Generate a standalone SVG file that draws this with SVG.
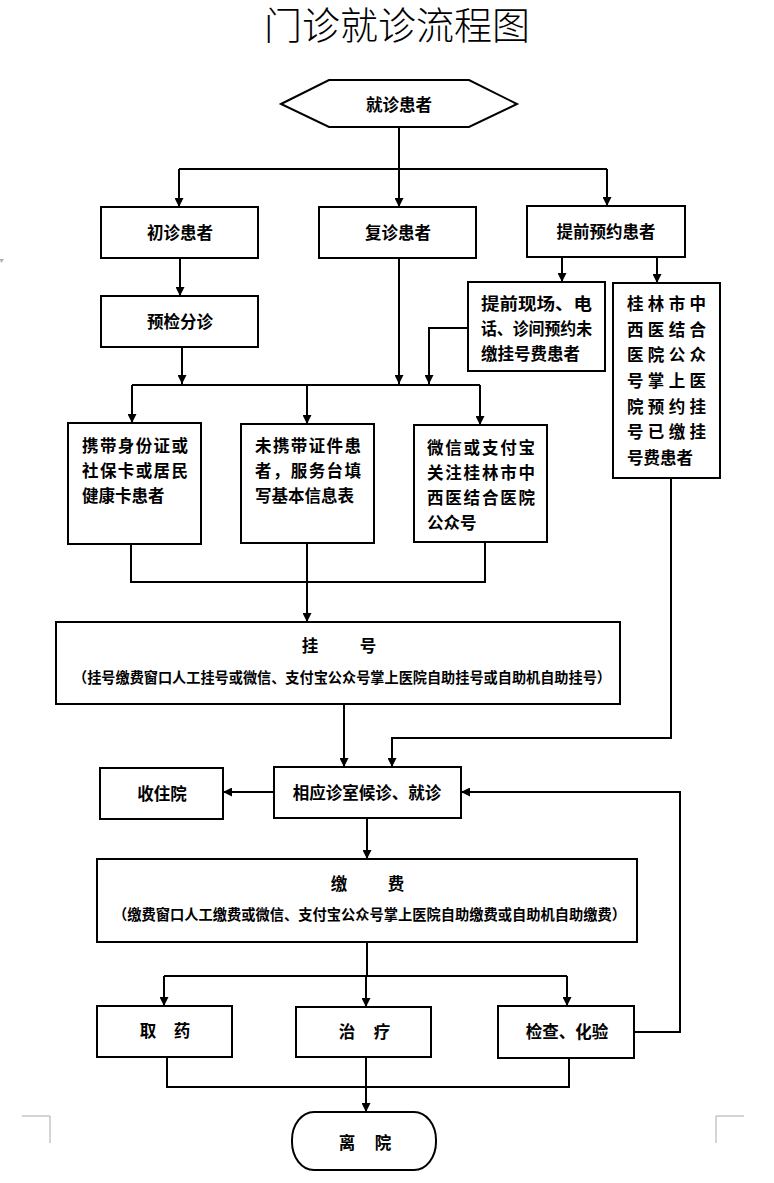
<svg xmlns="http://www.w3.org/2000/svg" width="774" height="1183" viewBox="0 0 774 1183">
<style>
.box{fill:#fff;stroke:#000;stroke-width:2}
.ln{fill:none;stroke:#000;stroke-width:2}
.arr{fill:none;stroke:#000;stroke-width:2;marker-end:url(#ah)}
.t{font-family:"Noto Sans CJK SC","Noto Sans CJK TC",sans-serif;font-size:16.5px;font-weight:bold;fill:#000;dominant-baseline:central}
.c{text-anchor:middle}
.s{font-size:14.5px}
.title{font-family:"Liberation Serif","Noto Sans CJK SC",serif;font-size:38px;font-weight:300;fill:#000;text-anchor:middle}
.mark{fill:none;stroke:#aaa;stroke-width:1}
</style>
<defs>
<marker id="ah" viewBox="0 0 10 10" refX="10" refY="5" markerWidth="9" markerHeight="9" markerUnits="userSpaceOnUse" orient="auto"><path d="M0,0 L10,5 L0,10 z" fill="#000"/></marker>
</defs>
<rect width="774" height="1183" fill="#fff"/>
<text class="title" x="397" y="39">门诊就诊流程图</text>

<g id="connectors">
<path class="ln" d="M399,127 V169 M179,169 H607"/>
<path class="arr" d="M179,169 V207"/>
<path class="arr" d="M399,169 V207"/>
<path class="arr" d="M607,169 V206"/>
<path class="arr" d="M180,258 V296"/>
<path class="arr" d="M182,347 V384"/>
<path class="arr" d="M399,258 V384"/>
<path class="arr" d="M562,257 V282"/>
<path class="arr" d="M657,257 V283"/>
<path class="arr" d="M468,328 H429 V384"/>
<path class="ln" d="M132,385 H480"/>
<path class="arr" d="M132,385 V423"/>
<path class="arr" d="M307,385 V424"/>
<path class="arr" d="M480,385 V425"/>
<path class="ln" d="M131,544 V582 H485 V542"/>
<path class="arr" d="M307,543 V622"/>
<path class="arr" d="M344,704 V767"/>
<path class="arr" d="M671,478 V738 H392 V767"/>
<path class="arr" d="M274,792 H223"/>
<path class="arr" d="M367,818 V859"/>
<path class="ln" d="M367,942 V976 M164,976 H567"/>
<path class="arr" d="M164,976 V1006"/>
<path class="arr" d="M366,976 V1007"/>
<path class="arr" d="M567,976 V1006"/>
<path class="arr" d="M634,1032 H680 V792 H461"/>
<path class="ln" d="M167,1057 V1087 H569 V1058"/>
<path class="arr" d="M366,1057 V1112"/>
</g>

<g id="n-start">
<polygon class="box" points="281,104 329,80 469,80 517,104 469,127 329,127"/>
<text class="t c" x="399" y="104">就诊患者</text>
</g>
<g id="n-first">
<rect class="box" x="101" y="207" width="157" height="51"/>
<text class="t c" x="180" y="232">初诊患者</text>
</g>
<g id="n-return">
<rect class="box" x="319" y="207" width="157" height="51"/>
<text class="t c" x="398" y="232">复诊患者</text>
</g>
<g id="n-appoint">
<rect class="box" x="527" y="206" width="158" height="51"/>
<text class="t c" x="606" y="231">提前预约患者</text>
</g>
<g id="n-triage">
<rect class="box" x="101" y="296" width="157" height="51"/>
<text class="t c" x="180" y="321">预检分诊</text>
</g>
<g id="n-unpaid">
<rect class="box" x="468" y="282" width="137" height="89"/>
<text class="t" x="481" y="303" textLength="111" lengthAdjust="spacingAndGlyphs">提前现场、电</text>
<text class="t" x="481" y="328" textLength="111" lengthAdjust="spacingAndGlyphs">话、诊间预约未</text>
<text class="t" x="481" y="353">缴挂号费患者</text>
</g>
<g id="n-paid">
<rect class="box" x="613" y="283" width="107" height="195"/>
<text class="t" x="627" y="303" textLength="79" lengthAdjust="spacing">桂林市中</text>
<text class="t" x="627" y="329" textLength="79" lengthAdjust="spacing">西医结合</text>
<text class="t" x="627" y="354" textLength="79" lengthAdjust="spacing">医院公众</text>
<text class="t" x="627" y="380" textLength="79" lengthAdjust="spacing">号掌上医</text>
<text class="t" x="627" y="406" textLength="79" lengthAdjust="spacing">院预约挂</text>
<text class="t" x="627" y="431" textLength="79" lengthAdjust="spacing">号已缴挂</text>
<text class="t" x="627" y="457">号费患者</text>
</g>
<g id="n-idcard">
<rect class="box" x="68" y="423" width="133" height="121"/>
<text class="t" x="82" y="445" textLength="106" lengthAdjust="spacing">携带身份证或</text>
<text class="t" x="82" y="470" textLength="106" lengthAdjust="spacing">社保卡或居民</text>
<text class="t" x="82" y="495">健康卡患者</text>
</g>
<g id="n-noid">
<rect class="box" x="241" y="424" width="133" height="119"/>
<text class="t" x="255" y="445" textLength="106" lengthAdjust="spacing">未携带证件患</text>
<text class="t" x="255" y="470" textLength="106" lengthAdjust="spacing">者，服务台填</text>
<text class="t" x="255" y="495">写基本信息表</text>
</g>
<g id="n-wechat">
<rect class="box" x="414" y="425" width="133" height="117"/>
<text class="t" x="427" y="447" textLength="108" lengthAdjust="spacing">微信或支付宝</text>
<text class="t" x="427" y="472" textLength="108" lengthAdjust="spacing">关注桂林市中</text>
<text class="t" x="427" y="497" textLength="108" lengthAdjust="spacing">西医结合医院</text>
<text class="t" x="427" y="522">公众号</text>
</g>
<g id="n-register">
<rect class="box" x="56" y="622" width="564" height="82"/>
<text class="t c" y="645"><tspan x="310">挂</tspan><tspan x="368">号</tspan></text>
<text class="t s" x="73" y="676" textLength="538" lengthAdjust="spacingAndGlyphs">（挂号缴费窗口人工挂号或微信、支付宝公众号掌上医院自助挂号或自助机自助挂号）</text>
</g>
<g id="n-admit">
<rect class="box" x="100" y="768" width="123" height="51"/>
<text class="t c" x="162" y="793">收住院</text>
</g>
<g id="n-consult">
<rect class="box" x="274" y="767" width="187" height="51"/>
<text class="t c" x="367" y="792">相应诊室候诊、就诊</text>
</g>
<g id="n-pay">
<rect class="box" x="97" y="859" width="540" height="83"/>
<text class="t c" y="883"><tspan x="339">缴</tspan><tspan x="396">费</tspan></text>
<text class="t s" x="113" y="913" textLength="513" lengthAdjust="spacingAndGlyphs">（缴费窗口人工缴费或微信、支付宝公众号掌上医院自助缴费或自助机自助缴费）</text>
</g>
<g id="n-medicine">
<rect class="box" x="97" y="1006" width="135" height="51"/>
<text class="t c" y="1030"><tspan x="148">取</tspan><tspan x="182">药</tspan></text>
</g>
<g id="n-treat">
<rect class="box" x="296" y="1007" width="135" height="50"/>
<text class="t c" y="1031"><tspan x="347">治</tspan><tspan x="382">疗</tspan></text>
</g>
<g id="n-exam">
<rect class="box" x="498" y="1006" width="136" height="52"/>
<text class="t c" x="567" y="1031">检查、化验</text>
</g>
<g id="n-leave">
<rect class="box" x="292" y="1112" width="144" height="58" rx="22" ry="28"/>
<text class="t c" y="1142"><tspan x="347">离</tspan><tspan x="383">院</tspan></text>
</g>

<g id="page-marks">
<path class="mark" d="M22,1116 H50 V1143 M744,1116 H716 V1143"/>
<path d="M0,259 H4 L1,263 Z" fill="#aaa"/>
</g>
</svg>
